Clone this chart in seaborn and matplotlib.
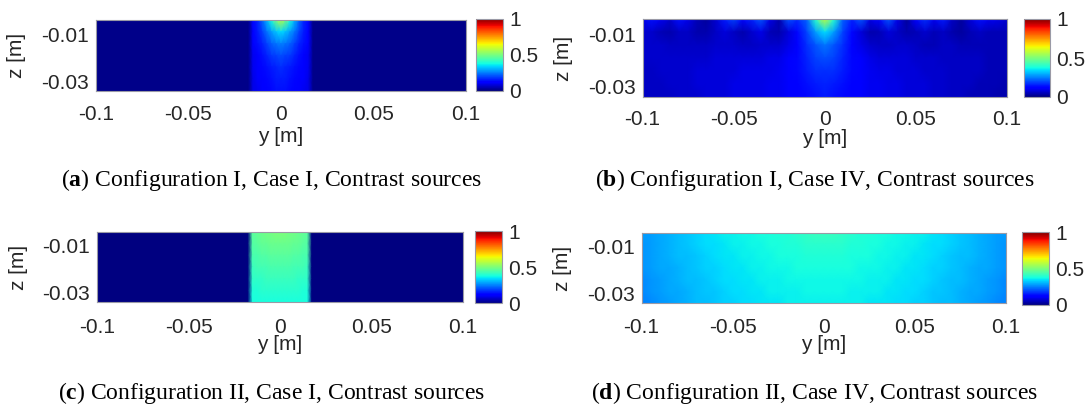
import numpy as np
import pandas as pd
import matplotlib
matplotlib.use("Agg")
import matplotlib.pyplot as plt
import seaborn as sns

# ------------------------------------------------------------------ data
# grid vertex coordinates (m)
y_fine = np.round(np.linspace(-0.1, 0.1, 81), 4)     # 2.5 mm spacing (panels a, c)
y_coarse = np.round(np.linspace(-0.1, 0.1, 41), 4)   # 5 mm spacing (panels b, d)
z_rows = [-0.004, -0.009, -0.014, -0.019, -0.024, -0.029, -0.034]

y_ticks = [-0.1, -0.05, 0, 0.05, 0.1]
y_tick_labels = ["-0.1", "-0.05", "0", "0.05", "0.1"]
z_ticks = [-0.01, -0.03]
z_tick_labels = ["-0.01", "-0.03"]
cbar_ticks = [0, 0.5, 1]
cbar_tick_labels = ["0", "0.5", "1"]

captions = [
    ("a", "Configuration I, Case I, Contrast sources"),
    ("b", "Configuration I, Case IV, Contrast sources"),
    ("c", "Configuration II, Case I, Contrast sources"),
    ("d", "Configuration II, Case IV, Contrast sources"),
]

# Panel (a): value outside the strip |y|<=0.015 and inside the strip (13 vertices)
a_outside = 0.01
a_strip = [
    [0.13, 0.16, 0.22, 0.30, 0.38, 0.50, 0.58, 0.50, 0.38, 0.30, 0.22, 0.16, 0.13],
    [0.12, 0.15, 0.19, 0.24, 0.28, 0.32, 0.34, 0.32, 0.28, 0.24, 0.19, 0.15, 0.12],
    [0.11, 0.14, 0.16, 0.19, 0.22, 0.24, 0.25, 0.24, 0.22, 0.19, 0.16, 0.14, 0.11],
    [0.10, 0.12, 0.14, 0.16, 0.18, 0.19, 0.20, 0.19, 0.18, 0.16, 0.14, 0.12, 0.10],
    [0.10, 0.11, 0.13, 0.14, 0.15, 0.16, 0.17, 0.16, 0.15, 0.14, 0.13, 0.11, 0.10],
    [0.09, 0.11, 0.12, 0.13, 0.14, 0.15, 0.15, 0.15, 0.14, 0.13, 0.12, 0.11, 0.09],
    [0.09, 0.10, 0.11, 0.12, 0.13, 0.14, 0.14, 0.14, 0.13, 0.12, 0.11, 0.10, 0.09],
]

# Panel (c)
c_outside = 0.0
c_strip = [
    [0.46, 0.47, 0.48, 0.49, 0.49, 0.50, 0.50, 0.50, 0.49, 0.49, 0.48, 0.47, 0.46],
    [0.45, 0.46, 0.47, 0.47, 0.48, 0.48, 0.48, 0.48, 0.48, 0.47, 0.47, 0.46, 0.45],
    [0.44, 0.44, 0.45, 0.45, 0.46, 0.46, 0.46, 0.46, 0.46, 0.45, 0.45, 0.44, 0.44],
    [0.42, 0.43, 0.43, 0.43, 0.44, 0.44, 0.44, 0.44, 0.44, 0.43, 0.43, 0.43, 0.42],
    [0.41, 0.41, 0.41, 0.42, 0.42, 0.42, 0.42, 0.42, 0.42, 0.42, 0.41, 0.41, 0.41],
    [0.39, 0.39, 0.40, 0.40, 0.40, 0.40, 0.40, 0.40, 0.40, 0.40, 0.40, 0.39, 0.39],
    [0.38, 0.38, 0.38, 0.38, 0.38, 0.38, 0.38, 0.38, 0.38, 0.38, 0.38, 0.38, 0.38],
]

# Panel (b): full field, 41 vertices per row (y = -0.1 ... 0.1)
b_rows = [
    [0.09, 0.14, 0.10, 0.07, 0.14, 0.09, 0.05, 0.03, 0.07, 0.15,
     0.19, 0.13, 0.16, 0.21, 0.09, 0.04, 0.20, 0.17, 0.22, 0.40,
     0.58,
     0.40, 0.22, 0.16, 0.21, 0.09, 0.13, 0.21, 0.09, 0.03, 0.11,
     0.17, 0.10, 0.15, 0.06, 0.03, 0.08, 0.14, 0.10, 0.09, 0.07],
    [0.07, 0.07, 0.05, 0.04, 0.06, 0.06, 0.04, 0.04, 0.06, 0.08,
     0.06, 0.04, 0.07, 0.09, 0.05, 0.04, 0.08, 0.13, 0.19, 0.28,
     0.34,
     0.28, 0.19, 0.13, 0.08, 0.04, 0.05, 0.08, 0.06, 0.04, 0.05,
     0.07, 0.05, 0.06, 0.04, 0.03, 0.05, 0.06, 0.05, 0.05, 0.05],
    [0.07, 0.07, 0.07, 0.06, 0.06, 0.06, 0.06, 0.06, 0.07, 0.07,
     0.07, 0.06, 0.06, 0.07, 0.07, 0.07, 0.09, 0.12, 0.17, 0.21,
     0.24,
     0.21, 0.17, 0.12, 0.09, 0.07, 0.06, 0.06, 0.07, 0.07, 0.06,
     0.05, 0.05, 0.06, 0.06, 0.05, 0.05, 0.05, 0.05, 0.05, 0.05],
    [0.07, 0.07, 0.07, 0.07, 0.07, 0.07, 0.07, 0.07, 0.08, 0.08,
     0.08, 0.08, 0.08, 0.08, 0.09, 0.09, 0.11, 0.13, 0.16, 0.19,
     0.20,
     0.19, 0.16, 0.13, 0.11, 0.09, 0.08, 0.08, 0.08, 0.08, 0.07,
     0.07, 0.07, 0.06, 0.06, 0.06, 0.06, 0.06, 0.05, 0.05, 0.05],
    [0.06, 0.06, 0.07, 0.07, 0.07, 0.07, 0.08, 0.08, 0.08, 0.08,
     0.08, 0.09, 0.09, 0.09, 0.09, 0.10, 0.11, 0.13, 0.15, 0.17,
     0.17,
     0.17, 0.15, 0.13, 0.11, 0.10, 0.09, 0.09, 0.08, 0.08, 0.08,
     0.07, 0.07, 0.07, 0.06, 0.06, 0.06, 0.06, 0.05, 0.05, 0.05],
    [0.06, 0.06, 0.06, 0.07, 0.07, 0.07, 0.08, 0.08, 0.08, 0.08,
     0.09, 0.09, 0.09, 0.09, 0.10, 0.10, 0.11, 0.12, 0.14, 0.15,
     0.16,
     0.15, 0.14, 0.12, 0.11, 0.10, 0.10, 0.09, 0.09, 0.08, 0.08,
     0.08, 0.07, 0.07, 0.06, 0.06, 0.06, 0.05, 0.05, 0.05, 0.04],
    [0.06, 0.06, 0.06, 0.06, 0.07, 0.07, 0.07, 0.08, 0.08, 0.08,
     0.09, 0.09, 0.09, 0.09, 0.10, 0.10, 0.11, 0.12, 0.13, 0.14,
     0.15,
     0.14, 0.13, 0.12, 0.11, 0.10, 0.10, 0.09, 0.09, 0.08, 0.08,
     0.08, 0.07, 0.07, 0.06, 0.06, 0.05, 0.05, 0.05, 0.04, 0.04],
]

# Panel (d): full field, 41 vertices per row
d_rows = [
    [0.28, 0.28, 0.29, 0.30, 0.31, 0.32, 0.33, 0.34, 0.35, 0.36,
     0.36, 0.37, 0.37, 0.38, 0.38, 0.39, 0.39, 0.40, 0.41, 0.42,
     0.42,
     0.42, 0.41, 0.40, 0.39, 0.39, 0.38, 0.38, 0.37, 0.37, 0.36,
     0.36, 0.35, 0.34, 0.33, 0.32, 0.31, 0.30, 0.29, 0.28, 0.28],
    [0.27, 0.28, 0.29, 0.30, 0.31, 0.32, 0.33, 0.34, 0.34, 0.35,
     0.36, 0.36, 0.37, 0.37, 0.38, 0.38, 0.39, 0.39, 0.40, 0.40,
     0.40,
     0.40, 0.40, 0.39, 0.39, 0.38, 0.38, 0.37, 0.37, 0.36, 0.36,
     0.35, 0.34, 0.34, 0.33, 0.32, 0.31, 0.30, 0.29, 0.28, 0.27],
    [0.27, 0.28, 0.29, 0.30, 0.31, 0.31, 0.32, 0.33, 0.34, 0.35,
     0.35, 0.36, 0.36, 0.37, 0.37, 0.38, 0.38, 0.38, 0.39, 0.39,
     0.39,
     0.39, 0.39, 0.38, 0.38, 0.38, 0.37, 0.37, 0.36, 0.36, 0.35,
     0.35, 0.34, 0.33, 0.32, 0.31, 0.31, 0.30, 0.29, 0.28, 0.27],
    [0.27, 0.28, 0.29, 0.29, 0.30, 0.31, 0.32, 0.33, 0.33, 0.34,
     0.35, 0.35, 0.36, 0.36, 0.37, 0.37, 0.37, 0.38, 0.38, 0.38,
     0.38,
     0.38, 0.38, 0.38, 0.37, 0.37, 0.37, 0.36, 0.36, 0.35, 0.35,
     0.34, 0.33, 0.33, 0.32, 0.31, 0.30, 0.29, 0.29, 0.28, 0.27],
    [0.26, 0.27, 0.28, 0.29, 0.30, 0.31, 0.31, 0.32, 0.33, 0.34,
     0.34, 0.35, 0.35, 0.36, 0.36, 0.36, 0.37, 0.37, 0.37, 0.37,
     0.37,
     0.37, 0.37, 0.37, 0.37, 0.36, 0.36, 0.36, 0.35, 0.35, 0.34,
     0.34, 0.33, 0.32, 0.31, 0.31, 0.30, 0.29, 0.28, 0.27, 0.26],
    [0.26, 0.27, 0.28, 0.29, 0.29, 0.30, 0.31, 0.32, 0.32, 0.33,
     0.34, 0.34, 0.35, 0.35, 0.36, 0.36, 0.36, 0.36, 0.37, 0.37,
     0.37,
     0.37, 0.37, 0.36, 0.36, 0.36, 0.36, 0.35, 0.35, 0.34, 0.34,
     0.33, 0.32, 0.32, 0.31, 0.30, 0.29, 0.29, 0.28, 0.27, 0.26],
    [0.25, 0.26, 0.27, 0.28, 0.29, 0.30, 0.31, 0.31, 0.32, 0.33,
     0.33, 0.34, 0.34, 0.35, 0.35, 0.35, 0.36, 0.36, 0.36, 0.36,
     0.36,
     0.36, 0.36, 0.36, 0.36, 0.35, 0.35, 0.35, 0.34, 0.34, 0.33,
     0.33, 0.32, 0.31, 0.31, 0.30, 0.29, 0.28, 0.27, 0.26, 0.25],
]

# ------------------------------------------------------------------ tables
def strip_table(outside, strip):
    rows = [[outside] * 34 + list(r) + [outside] * 34 for r in strip]
    return pd.DataFrame(rows, index=z_rows, columns=y_fine)

df_a = strip_table(a_outside, a_strip)
df_c = strip_table(c_outside, c_strip)
df_b = pd.DataFrame(b_rows, index=z_rows, columns=y_coarse)
df_d = pd.DataFrame(d_rows, index=z_rows, columns=y_coarse)

# ------------------------------------------------------------------ style
sns.set_style("white")
plt.rcParams["font.family"] = ["Liberation Sans", "DejaVu Sans"]
plt.rcParams["mathtext.fontset"] = "custom"
plt.rcParams["mathtext.rm"] = "Liberation Serif"
plt.rcParams["mathtext.bf"] = "Liberation Serif:bold"

W, H = 1086, 405
fig = plt.figure(figsize=(W / 100, H / 100), dpi=100)
fig.patch.set_facecolor("white")

TXT = "#262626"
EDGE = "#9a9aa6"
FS = 15


def px_axes(l, t, r, b):
    return fig.add_axes([l / W, 1 - b / H, (r - l) / W, (b - t) / H])


# pixel layout per panel: axes box, colorbar box, xlabel y, tick pad, caption
layout = [
    dict(df=df_a, ax=(96, 20, 465.5, 90.7), cb=(476, 18.5, 503, 90.7),
         xlab=137, xpad=10.0, cap=(271.5, 180)),
    dict(df=df_b, ax=(642.5, 19.3, 1007, 96.7), cb=(1023.5, 19, 1050, 97),
         xlab=138, xpad=9.5, cap=(814.5, 180)),
    dict(df=df_c, ax=(97.3, 231.7, 462.5, 302.3), cb=(475.3, 231, 501.7, 303.3),
         xlab=344, xpad=11.0, cap=(271.5, 393)),
    dict(df=df_d, ax=(641.6, 232.7, 1006, 303.3), cb=(1022.3, 232.3, 1049, 305),
         xlab=344.5, xpad=10.5, cap=(814.5, 393)),
]

for (letter, text), L in zip(captions, layout):
    df = L["df"]
    ax = px_axes(*L["ax"])
    cax = px_axes(*L["cb"])
    sns.heatmap(df, ax=ax, cbar_ax=cax, cmap="jet", vmin=0, vmax=1,
                shading="gouraud", xticklabels=False, yticklabels=False)
    n, m = df.shape[1], df.shape[0]
    ax.set_xlim(0, n - 1)
    ax.set_ylim(m - 1, 0)
    xt = np.interp(y_ticks, df.columns.values.astype(float), np.arange(n))
    zt = np.interp(-np.array(z_ticks), -df.index.values.astype(float), np.arange(m))
    ax.set_xticks(xt)
    ax.set_xticklabels(y_tick_labels)
    ax.set_yticks(zt)
    ax.set_yticklabels(z_tick_labels)
    for s in ax.spines.values():
        s.set_visible(True)
        s.set_color(EDGE)
        s.set_linewidth(0.8)
    ax.tick_params(axis="x", direction="in", length=3, width=0.6, color=EDGE,
                   labelsize=FS, labelcolor=TXT, pad=L["xpad"])
    ax.tick_params(axis="y", direction="in", length=3, width=0.6, color=EDGE,
                   labelsize=FS, labelcolor=TXT, pad=5.0)

    l, t, r, b = L["ax"]
    ax.set_xlabel("y [m]", fontsize=FS, color=TXT)
    ax.xaxis.set_label_coords(0.5, -(L["xlab"] - b) / (b - t))
    ax.xaxis.label.set_va("center")
    ax.set_ylabel("z [m]", fontsize=FS, color=TXT)
    ax.yaxis.set_label_coords(-79 / (r - l), 0.5)
    ax.yaxis.label.set_va("center")

    cb = ax.collections[0].colorbar
    cb.set_ticks(cbar_ticks, labels=cbar_tick_labels)
    cb.outline.set_linewidth(0.8)
    cb.outline.set_edgecolor(EDGE)
    cax.tick_params(labelsize=FS, labelcolor=TXT, length=0, pad=4.5)

    cx, cy = L["cap"]
    fig.text(cx / W, 1 - cy / H, r"($\mathbf{" + letter + r"}$) " + text,
             ha="center", va="center", fontsize=17,
             family=["Liberation Serif", "DejaVu Serif"], color="black")

fig.savefig("out.png", dpi=100, facecolor="white")
